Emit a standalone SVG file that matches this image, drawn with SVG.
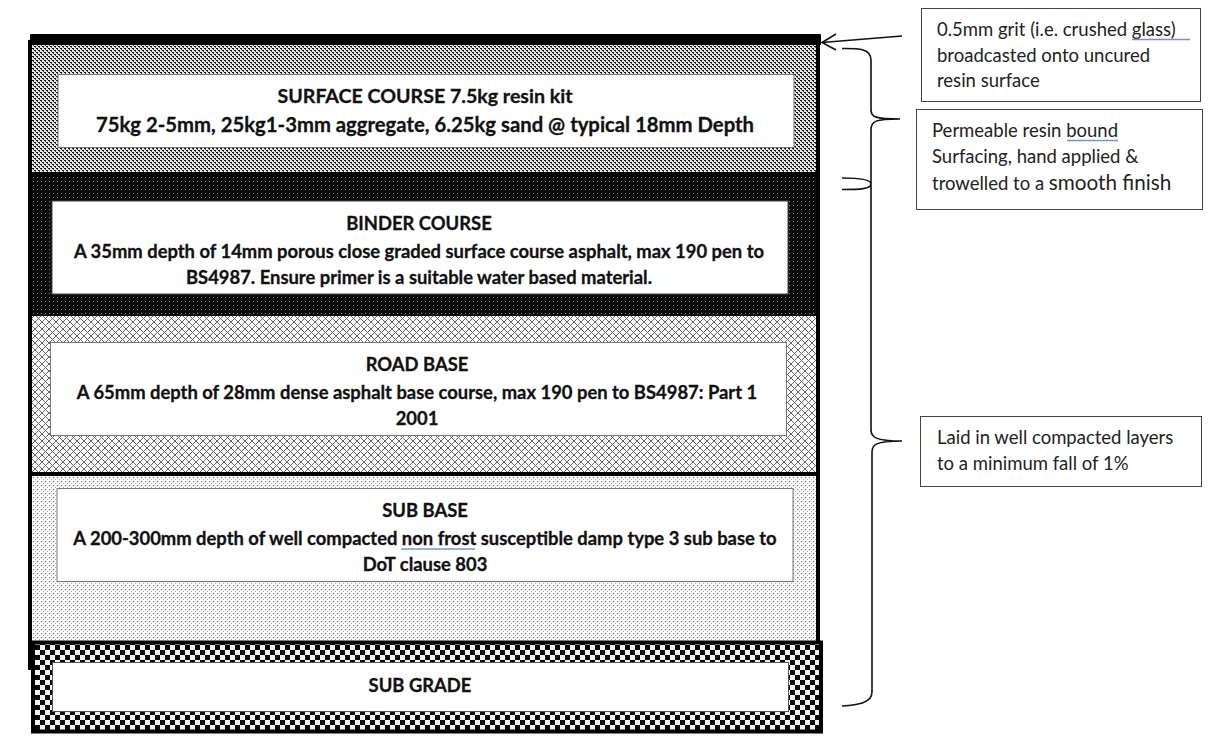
<svg xmlns="http://www.w3.org/2000/svg" width="1210" height="749" viewBox="0 0 1210 749">
<style>
text{font-family:"Lato","Liberation Sans",sans-serif;fill:#111}
.t{font-weight:700;font-size:18.400px;text-anchor:middle;stroke:#111;stroke-width:.3px}
.h{font-size:19.600px}
.s{font-size:20.300px}
.n{font-size:18.500px;fill:#222}
.box{fill:#fff;stroke:#777;stroke-width:1}
.note{fill:#fff;stroke:#444;stroke-width:1}
.c{fill:none;stroke:#111;stroke-width:1.6}
.u{fill:none;stroke:#6f94dc;stroke-width:1.6}
</style>
<defs>
<pattern id="pSurface" width="4" height="4" patternUnits="userSpaceOnUse"><rect width="4" height="4" fill="#e6e6e6"/><rect x="0" y="0" width="2" height="1" fill="#111"/><rect x="2" y="2" width="2" height="1" fill="#111"/><rect x="1" y="1" width="1" height="1" fill="#444"/><rect x="3" y="3" width="1" height="1" fill="#444"/></pattern>
<pattern id="pBinder" width="4" height="4" patternUnits="userSpaceOnUse"><rect width="4" height="4" fill="#0c0c0c"/><rect x="1" y="1" width="1" height="1" fill="#888"/></pattern>
<pattern id="pRoad" width="7" height="7" patternUnits="userSpaceOnUse"><rect width="7" height="7" fill="#fcfcfc"/><path d="M0 0L7 7M7 0L0 7" stroke="#666" stroke-width="1"/></pattern>
<pattern id="pSub" width="4" height="4" patternUnits="userSpaceOnUse"><rect width="4" height="4" fill="#fbfbfb"/><rect x="1" y="1" width="1.200" height="1.200" fill="#777"/><rect x="3" y="3" width="1" height="1" fill="#aaa"/></pattern>
<pattern id="pGrade" width="10" height="10" patternUnits="userSpaceOnUse"><rect width="10" height="10" fill="#f2f2f2"/><rect width="5" height="5" fill="#0a0a0a"/><rect x="5" y="5" width="5" height="5" fill="#0a0a0a"/></pattern>
</defs>

<g id="frame"><rect x="28" y="40" width="4" height="630" fill="#000"/><rect x="816" y="40" width="4" height="604" fill="#000"/></g>

<g id="surface-course">
<rect x="32" y="45" width="784" height="127" fill="url(#pSurface)"/>
<rect x="58" y="74.500" width="736" height="73" class="box"/>
<text class="t h" x="425" y="103">SURFACE COURSE 7.5kg resin kit</text>
<text class="t s" x="425" y="132">75kg 2-5mm, 25kg1-3mm aggregate, 6.25kg sand @ typical 18mm Depth</text>
</g>
<rect id="grit-layer" x="30" y="34" width="791" height="11" rx="1" fill="#000"/>

<g id="binder-course">
<rect x="32" y="172" width="784" height="144" fill="url(#pBinder)"/>
<rect x="32" y="172" width="784" height="5" fill="#000"/>
<rect x="52" y="201" width="736" height="93" fill="#fff" stroke="#444"/>
<text class="t" x="419" y="230">BINDER COURSE</text>
<text class="t" x="419" y="258">A 35mm depth of 14mm porous close graded surface course asphalt, max 190 pen to</text>
<text class="t" x="419" y="284">BS4987. Ensure primer is a suitable water based material.</text>
</g>

<g id="road-base">
<rect x="32" y="316" width="784" height="157" fill="url(#pRoad)"/>
<rect x="50.500" y="342.500" width="736" height="93" class="box"/>
<text class="t" x="417" y="371">ROAD BASE</text>
<text class="t" x="417" y="399">A 65mm depth of 28mm dense asphalt base course, max 190 pen to BS4987: Part 1</text>
<text class="t" x="417" y="425">2001</text>
</g>
<rect id="road-sub-divider" x="32" y="472" width="784" height="4" fill="#000"/>

<g id="sub-base">
<rect x="32" y="476" width="784" height="166" fill="url(#pSub)"/>
<rect x="57" y="488.500" width="736" height="93" class="box"/>
<text class="t" x="425" y="517">SUB BASE</text>
<text class="t" x="425" y="545">A 200-300mm depth of well compacted non frost susceptible damp type 3 sub base to</text>
<path class="u" d="M401 549H475" />
<text class="t" x="425" y="571">DoT clause 803</text>
</g>

<g id="sub-grade">
<rect x="33" y="642.500" width="788" height="89" fill="url(#pGrade)" stroke="#000" stroke-width="4"/>
<rect x="52.500" y="662.500" width="736" height="49" fill="#fff" stroke="#555"/>
<text class="t" x="420" y="692">SUB GRADE</text>
</g>

<g id="connectors">
<path class="c" d="M902 36L822 42.500"/>
<path class="c" d="M836 34L822 42.500L836 50"/>
<path class="c" d="M842 48.500C858 48.500 871 48 871 60V110C871 117 875 119 900 119C875 119 871 121 871 130V184C871 180 860 178 842 178M842 189.500C860 189.500 871 189 871 184V430C871 437 875 441 902 441C875 441 872 445 872 452V692C872 703 858 705 842 706"/>
</g>

<g id="note-grit">
<rect x="921.500" y="8.500" width="279" height="93" class="note"/>
<text class="n" x="937" y="36">0.5mm grit (i.e. crushed glass)</text>
<path class="u" d="M1132 39.500H1190"/>
<text class="n" x="937" y="62">broadcasted onto uncured</text>
<text class="n" x="937" y="87">resin surface</text>
</g>
<g id="note-resin">
<rect x="916.500" y="109.500" width="286" height="100" class="note"/>
<text class="n" x="932" y="137">Permeable resin bound</text>
<path class="u" d="M1067 140.500H1118"/>
<text class="n" x="932" y="163">Surfacing, hand applied &amp;</text>
<text class="n" x="932" y="190">trowelled to a <tspan font-size="20.700">smooth finish</tspan></text>
</g>
<g id="note-laid">
<rect x="920.500" y="416.500" width="281" height="70" class="note"/>
<text class="n" x="937" y="444">Laid in well compacted layers</text>
<text class="n" x="937" y="470">to a minimum fall of 1%</text>
</g>
</svg>
